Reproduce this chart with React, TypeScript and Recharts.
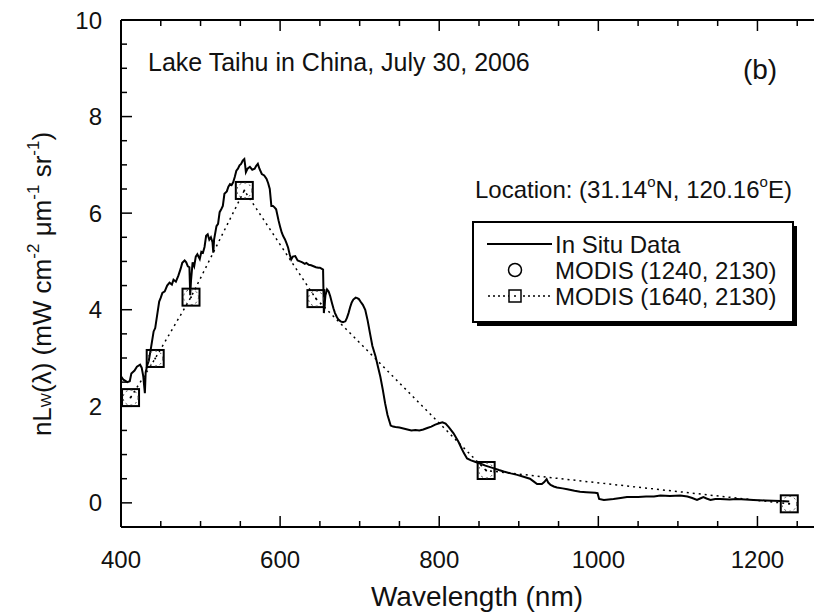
import React from 'react';
import { ComposedChart, Line, XAxis, YAxis } from 'recharts';

// In situ spectrum (wavelength nm, nLw)
const IN_SITU_NM = [
  400, 403, 408, 411, 413, 417, 420, 424, 426, 428, 430, 431, 433, 435, 438, 441, 443, 446, 448, 450,
  452, 455, 458, 461, 464, 466, 469, 472, 475, 477, 480, 482, 484, 486, 487, 488, 490, 492, 494, 496,
  499, 501, 503, 505, 507, 509, 511, 513, 515, 516, 517, 520, 522, 524, 526, 528, 530, 533, 535, 537,
  539, 541, 543, 545, 547, 549, 551, 553, 555, 556, 557, 559, 562, 565, 568, 570, 572, 574, 577, 580,
  583, 585, 587, 589, 591, 593, 595, 598, 600, 602, 604, 606, 608, 610, 612, 614, 616, 619, 622, 625,
  628, 631, 633, 636, 639, 642, 645, 648, 650, 652, 654, 655, 657, 659, 661, 663, 665, 667, 669, 671,
  673, 676, 679, 682, 684, 686, 688, 690, 692, 695, 697, 699, 701, 704, 707, 710, 713, 716, 720, 723,
  726, 729, 732, 735, 739, 742, 745, 750, 755, 760, 765, 770, 775, 780, 785, 790, 795, 800, 804, 808,
  812, 818, 824, 828, 831, 835, 840, 845, 852, 858, 862, 868, 875, 881, 890, 898, 906, 914, 919, 923,
  929, 932, 935, 937, 940, 944, 948, 955, 961, 970, 977, 985, 996, 999, 1001, 1007, 1013, 1019, 1028, 1036,
  1050, 1060, 1070, 1078, 1090, 1103, 1112, 1118, 1124, 1128, 1132, 1136, 1141, 1147, 1153, 1165, 1174, 1185, 1195, 1210,
  1229, 1240,
];
const IN_SITU_NLW = [
  2.62, 2.55, 2.5, 2.52, 2.68, 2.74, 2.82, 2.86, 2.8, 2.62, 2.27, 2.7, 2.85, 2.95, 3.24, 3.55, 3.62, 3.95, 4.17, 4.25,
  4.35, 4.38, 4.5, 4.56, 4.52, 4.62, 4.58, 4.7, 4.85, 4.97, 5.02, 4.98, 4.9, 4.88, 4.3, 4.6, 4.98, 4.9, 5.1, 5.15,
  5.05, 5.2, 5.18, 5.3, 5.53, 5.56, 5.45, 5.5, 5.4, 5.18, 5.45, 5.73, 5.78, 6.02, 6.08, 6.15, 6.4, 6.45, 6.55, 6.6,
  6.58, 6.64, 6.75, 6.88, 6.92, 6.99, 7.02, 7.09, 7.12, 7.0, 6.85, 6.92, 6.96, 6.9, 6.92, 6.98, 7.02, 6.92, 6.81, 6.78,
  6.71, 6.62, 6.5, 6.15, 6.15, 6.12, 6.08, 5.85, 5.72, 5.6, 5.52, 5.46, 5.38, 5.29, 5.15, 5.04, 5.1, 5.11, 5.02, 5.0,
  4.98, 4.95, 4.97, 4.93, 4.92, 4.9, 4.88, 4.87, 4.87, 4.85, 4.83, 3.93, 4.3, 4.42, 4.38, 4.28, 4.15, 4.03, 3.93, 3.86,
  3.8, 3.76, 3.74, 3.76, 3.83, 3.93, 4.05, 4.15, 4.21, 4.25, 4.24, 4.22, 4.17, 4.1, 4.0, 3.78, 3.51, 3.25, 3.03, 2.82,
  2.61, 2.35, 2.06, 1.82, 1.6, 1.58, 1.57, 1.56, 1.54, 1.52, 1.5, 1.51, 1.5, 1.52, 1.55, 1.58, 1.62, 1.65, 1.67, 1.64,
  1.57, 1.44, 1.27, 1.13, 1.03, 0.92, 0.88, 0.85, 0.81, 0.77, 0.75, 0.72, 0.68, 0.65, 0.61, 0.58, 0.54, 0.5, 0.44, 0.39,
  0.39, 0.43, 0.49, 0.42, 0.37, 0.34, 0.32, 0.3, 0.28, 0.25, 0.23, 0.22, 0.21, 0.2, 0.08, 0.06, 0.07, 0.08, 0.1, 0.12,
  0.12, 0.13, 0.13, 0.15, 0.14, 0.15, 0.13, 0.1, 0.06, 0.09, 0.12, 0.09, 0.06, 0.08, 0.08, 0.07, 0.08, 0.07, 0.06, 0.05,
  0.04, 0.03,
];

// MODIS bands and retrievals
const MODIS_BANDS = [412, 443, 488, 555, 645, 859, 1240];
const MODIS_1240_2130 = [2.18, 2.99, 4.26, 6.47, 4.23, 0.67, -0.02];
const MODIS_1640_2130 = [2.18, 2.99, 4.26, 6.47, 4.23, 0.67, -0.02];

const X_TICKS = [400, 450, 500, 550, 600, 650, 700, 750, 800, 850, 900, 950, 1000, 1050, 1100, 1150, 1200, 1250, 1300];
const X_LABELS = [400, 600, 800, 1000, 1200];
const Y_TICKS = [0, 0.5, 1, 1.5, 2, 2.5, 3, 3.5, 4, 4.5, 5, 5.5, 6, 6.5, 7, 7.5, 8, 8.5, 9, 9.5, 10];
const Y_LABELS = [0, 2, 4, 6, 8, 10];

const inSituData = IN_SITU_NM.map((nm, i) => ({ nm, v: IN_SITU_NLW[i] }));
const modisA = MODIS_BANDS.map((nm, i) => ({ nm, v: MODIS_1240_2130[i] }));
const modisB = MODIS_BANDS.map((nm, i) => ({ nm, v: MODIS_1640_2130[i] }));

const FONT = '"Liberation Sans", Arial, Helvetica, sans-serif';
const INK = '#111';

const BottomTick = (props: any) => {
  const { x, y, payload } = props;
  const v = payload.value;
  const major = X_LABELS.includes(v);
  return (
    <g>
      <line x1={x} x2={x} y1={y} y2={y - (major ? 11 : 6)} stroke="#000" strokeWidth={1.5} />
      {major && (
        <text x={x} y={y + 41} textAnchor="middle" fontSize={24} fontFamily={FONT} fill={INK}>
          {v}
        </text>
      )}
    </g>
  );
};

const TopTick = (props: any) => {
  const { x, y, payload } = props;
  const major = X_LABELS.includes(payload.value);
  return <line x1={x} x2={x} y1={y} y2={y + (major ? 11 : 6)} stroke="#000" strokeWidth={1.5} />;
};

const LeftTick = (props: any) => {
  const { x, y, payload } = props;
  const v = payload.value;
  const major = Y_LABELS.includes(v);
  return (
    <g>
      <line x1={x} x2={x + (major ? 11 : 6)} y1={y} y2={y} stroke="#000" strokeWidth={1.5} />
      {major && (
        <text x={x - 19} y={y} dy="0.36em" textAnchor="end" fontSize={24} fontFamily={FONT} fill={INK}>
          {v}
        </text>
      )}
    </g>
  );
};

const SquareDot = (props: any) => {
  const { cx, cy } = props;
  if (cx == null || cy == null) return null;
  return (
    <g>
      <rect x={cx - 8.5} y={cy - 8.5} width={17} height={17} fill="none" stroke="#000" strokeWidth={2} />
      <circle cx={cx} cy={cy} r={1} fill="#000" />
    </g>
  );
};

const CircleDot = (props: any) => {
  const { cx, cy } = props;
  if (cx == null || cy == null) return null;
  return <circle cx={cx} cy={cy} r={7.5} fill="none" stroke="#444" strokeWidth={1} strokeDasharray="2 3" />;
};

export default function App() {
  return (
    <div style={{ position: 'relative', width: 814, height: 606, overflow: 'hidden', background: '#fff' }}>
      <ComposedChart width={840} height={606} margin={{ top: 0, right: 11, bottom: 0, left: 0 }}>
        <XAxis
          xAxisId="bottom"
          dataKey="nm"
          type="number"
          domain={[400, 1300]}
          allowDataOverflow
          ticks={X_TICKS}
          interval={0}
          height={87}
          tickSize={0}
          tickMargin={0}
          tickLine={false}
          axisLine={{ stroke: '#000', strokeWidth: 2 }}
          tick={<BottomTick />}
        />
        <XAxis
          xAxisId="top"
          orientation="top"
          dataKey="nm"
          type="number"
          domain={[400, 1300]}
          allowDataOverflow
          ticks={X_TICKS}
          interval={0}
          height={12}
          tickSize={0}
          tickMargin={0}
          tickLine={false}
          axisLine={{ stroke: '#000', strokeWidth: 2 }}
          tick={<TopTick />}
        />
        <YAxis
          type="number"
          domain={[-0.5, 10]}
          allowDataOverflow
          ticks={Y_TICKS}
          interval={0}
          width={113}
          tickSize={0}
          tickMargin={0}
          tickLine={false}
          axisLine={{ stroke: '#000', strokeWidth: 2 }}
          tick={<LeftTick />}
        />
        <Line
          xAxisId="bottom"
          data={inSituData}
          dataKey="v"
          type="linear"
          stroke="#000"
          strokeWidth={2}
          dot={false}
          isAnimationActive={false}
        />
        <Line
          xAxisId="bottom"
          data={modisB}
          dataKey="v"
          type="linear"
          stroke="#000"
          strokeWidth={1.5}
          strokeDasharray="2 4"
          dot={<SquareDot />}
          isAnimationActive={false}
        />
        <Line
          xAxisId="bottom"
          data={modisA}
          dataKey="v"
          type="linear"
          stroke="none"
          dot={<CircleDot />}
          isAnimationActive={false}
        />
      </ComposedChart>
      <svg
        width={814}
        height={606}
        style={{ position: 'absolute', left: 0, top: 0, pointerEvents: 'none' }}
        fontFamily={FONT}
        fill={INK}
      >
        <text x={140} y={63} fontSize={25}>Lake Taihu in China, July 30, 2006</text>
        <text x={752} y={71} fontSize={28} textAnchor="middle">(b)</text>
        <text x={467} y={190} fontSize={24}>
          Location: (31.14<tspan fontSize={15} dy={-11}>o</tspan>
          <tspan dy={11}>N, 120.16</tspan>
          <tspan fontSize={15} dy={-11}>o</tspan>
          <tspan dy={11}>E)</tspan>
        </text>
        <text x={469} y={598} fontSize={28} textAnchor="middle">Wavelength (nm)</text>
        <text transform="translate(43, 276) rotate(-90)" fontSize={26} textAnchor="middle">
          nL<tspan fontSize={15}>W</tspan>(λ) (mW cm<tspan fontSize={17} dy={-12}>-2</tspan>
          <tspan dy={12}> μm</tspan>
          <tspan fontSize={17} dy={-12}>-1</tspan>
          <tspan dy={12}> sr</tspan>
          <tspan fontSize={17} dy={-12}>-1</tspan>
          <tspan dy={12}>)</tspan>
        </text>
        {/* legend */}
        <rect x={469} y={218} width={320} height={100} fill="#000" />
        <rect x={465} y={214} width={320} height={100} fill="#fff" stroke="#000" strokeWidth={2} />
        <line x1={479} x2={544} y1={236} y2={236} stroke="#000" strokeWidth={2} />
        <text x={547} y={244.5} fontSize={24}>In Situ Data</text>
        <circle cx={507} cy={262} r={6.5} fill="none" stroke="#000" strokeWidth={1.5} />
        <text x={547} y={270.5} fontSize={24}>MODIS (1240, 2130)</text>
        <line x1={480} x2={544} y1={288} y2={288} stroke="#000" strokeWidth={1.5} strokeDasharray="2 3" />
        <rect x={501} y={282} width={12} height={12} fill="#fff" stroke="#000" strokeWidth={1.5} />
        <circle cx={507} cy={288} r={1} fill="#000" />
        <text x={547} y={296.5} fontSize={24}>MODIS (1640, 2130)</text>
      </svg>
    </div>
  );
}
